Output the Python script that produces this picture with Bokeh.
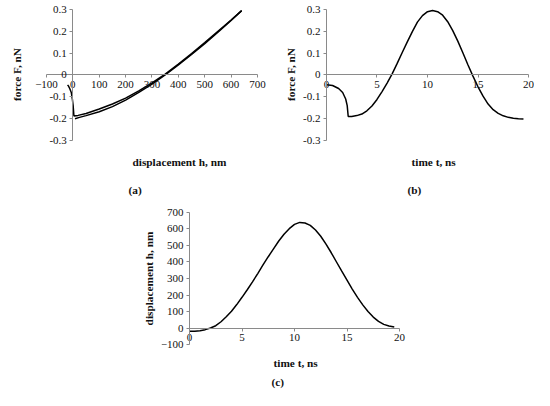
from bokeh.plotting import figure
from bokeh.models import LinearAxis, FixedTicker, NumeralTickFormatter, Title, Range1d, Spacer
from bokeh.layouts import column, row
from bokeh.embed import file_html
from bokeh.resources import INLINE

# ---------------- data ----------------
# (a) force vs displacement, approach (loading) branch
load_h = [-20, -17, -12, -6, -2, 1, 4, 20, 50, 100, 150, 200, 250, 300, 350, 400, 450, 500, 550, 600, 640]
load_f = [-0.045, -0.05, -0.062, -0.08, -0.11, -0.14, -0.188, -0.185, -0.176, -0.156, -0.133, -0.106,
          -0.073, -0.036, 0.004, 0.05, 0.098, 0.148, 0.2, 0.252, 0.295]
# (a) retract (unloading) branch
unload_h = [640, 600, 550, 500, 450, 400, 350, 300, 250, 200, 150, 100, 50, 25, 8]
unload_f = [0.295, 0.25, 0.196, 0.144, 0.094, 0.046, 0.0, -0.042, -0.08, -0.115, -0.145, -0.168,
            -0.186, -0.194, -0.2]

# (b) force vs time
time_b = [0, 0.6, 1.2, 1.6, 1.9, 2.05, 2.15, 2.5, 3.0, 3.5, 4.0, 4.5, 5.0, 5.5, 6.0, 6.5, 7.0, 7.5,
          8.0, 8.5, 9.0, 9.5, 10.0, 10.5, 11.0, 11.5, 12.0, 12.5, 13.0, 13.5, 14.0, 14.5, 15.0, 15.5,
          16.0, 16.5, 17.0, 17.5, 18.0, 18.5, 19.0, 19.5]
force_b = [-0.045, -0.048, -0.062, -0.08, -0.11, -0.14, -0.19, -0.19, -0.186, -0.179, -0.164, -0.142,
           -0.112, -0.076, -0.037, 0.005, 0.053, 0.103, 0.152, 0.199, 0.242, 0.272, 0.29, 0.295,
           0.29, 0.274, 0.244, 0.203, 0.155, 0.102, 0.047, -0.005, -0.054, -0.097, -0.133, -0.159,
           -0.176, -0.187, -0.194, -0.198, -0.2, -0.201]

# (c) displacement vs time
time_c = [0, 0.5, 1.0, 1.5, 2.0, 2.5, 3.0, 3.5, 4.0, 4.5, 5.0, 5.5, 6.0, 6.5, 7.0, 7.5, 8.0, 8.5,
          9.0, 9.5, 10.0, 10.5, 11.0, 11.5, 12.0, 12.5, 13.0, 13.5, 14.0, 14.5, 15.0, 15.5, 16.0,
          16.5, 17.0, 17.5, 18.0, 18.5, 19.0, 19.5]
disp_c = [-20, -19, -16, -10, 0, 14, 38, 68, 102, 142, 186, 232, 280, 330, 382, 432, 480, 527, 568,
          602, 628, 640, 636, 622, 594, 556, 508, 456, 400, 344, 290, 236, 186, 140, 100, 66, 40,
          22, 12, 6]

# tick values
force_ticks = [-0.3, -0.2, -0.1, 0, 0.1, 0.2, 0.3]
disp_ticks_a = [-100, 0, 100, 200, 300, 400, 500, 600, 700]
time_ticks = [0, 5, 10, 15, 20]
disp_ticks_c = [-100, 0, 100, 200, 300, 400, 500, 600, 700]

# labels
label_force = "force F, nN"
label_disp = "displacement h, nm"
label_time = "time t, ns"
captions = ["(a)", "(b)", "(c)"]

FONT = "Liberation Serif"
AXIS_GRAY = "#8a8a8a"
TXT = "#111111"
LBL_SIZE = "11.3px"


def style_axis(ax):
    ax.axis_line_color = AXIS_GRAY
    ax.major_tick_line_color = AXIS_GRAY
    ax.major_tick_out = 3
    ax.major_tick_in = 0
    ax.minor_tick_line_color = None
    ax.minor_tick_out = 0
    ax.major_label_text_font = FONT
    ax.major_label_text_font_size = "11px"
    ax.major_label_text_color = TXT
    ax.major_label_standoff = 3
    ax.axis_label_text_font = FONT
    ax.axis_label_text_font_size = LBL_SIZE
    ax.axis_label_text_font_style = "bold"
    ax.axis_label_text_color = TXT


def make_fig(w, h, xr, yr, mb):
    p = figure(width=w, height=h, x_range=Range1d(*xr), y_range=Range1d(*yr),
               output_backend="svg", toolbar_location=None,
               min_border_left=mb[0], min_border_right=mb[1],
               min_border_top=mb[2], min_border_bottom=mb[3])
    p.grid.visible = False
    p.outline_line_color = None
    p.background_fill_color = "white"
    p.border_fill_color = "white"
    for ax in p.xaxis + p.yaxis:
        style_axis(ax)
    return p


def setup_axes(p, xticks, xb, yticks, yb, yfmt=None):
    p.xaxis.ticker = FixedTicker(ticks=xticks)
    p.xaxis.bounds = xb
    p.xaxis.fixed_location = 0
    p.yaxis.ticker = FixedTicker(ticks=yticks)
    p.yaxis.bounds = yb
    p.yaxis.fixed_location = 0
    if yfmt is not None:
        p.yaxis.formatter = yfmt


def add_ylabel(p, text, bounds, standoff):
    ax = LinearAxis(ticker=FixedTicker(ticks=[]), axis_label=text, bounds=bounds)
    style_axis(ax)
    ax.axis_line_color = None
    ax.major_tick_out = 0
    ax.major_label_standoff = 0
    ax.axis_label_standoff = standoff
    p.add_layout(ax, "left")


def add_title(p, text, offset, standoff):
    p.add_layout(Title(text=text, align="left", offset=offset, standoff=standoff,
                       text_font=FONT, text_font_size=LBL_SIZE, text_font_style="bold",
                       text_color=TXT), "below")


# ---------------- (a) ----------------
pa = make_fig(268, 206, (-183.41, 741.71), (-0.33664, 0.34122), (24, 0, 0, 58))
setup_axes(pa, disp_ticks_a, (-100, 700), force_ticks, (-0.3, 0.3), NumeralTickFormatter(format="0.[0]"))
pa.line(load_h, load_f, line_color="black", line_width=1.5)
pa.line(unload_h, unload_f, line_color="black", line_width=1.5)
add_ylabel(pa, label_force, (-0.3, 0.3), 2)
add_title(pa, label_disp, 108, 11)
add_title(pa, captions[0], 104, 17)

# ---------------- (b) ----------------
pb = make_fig(266, 206, (-2.4752, 20.594), (-0.33664, 0.34122), (33, 0, 0, 58))
setup_axes(pb, time_ticks, (0, 20), force_ticks, (-0.3, 0.3), NumeralTickFormatter(format="0.[0]"))
pb.line(time_b, force_b, line_color="black", line_width=1.5)
add_ylabel(pb, label_force, (-0.3, 0.3), 5)
add_title(pb, label_time, 110, 11)
add_title(pb, captions[1], 106, 17)

# ---------------- (c) ----------------
pc = make_fig(303, 184, (-2.6667, 22.952), (-136.36, 736.36), (34, 0, 0, 40))
setup_axes(pc, time_ticks, (0, 20), disp_ticks_c, (-100, 700))
pc.line(time_c, disp_c, line_color="black", line_width=1.5)
add_ylabel(pc, label_disp, (-100, 700), 7)
add_title(pc, label_time, 112, 9)
add_title(pc, captions[2], 110, 0)

layout = column(row(pa, pb), row(Spacer(width=127, height=184), pc))

open("out.html", "w").write(file_html(layout, INLINE))
